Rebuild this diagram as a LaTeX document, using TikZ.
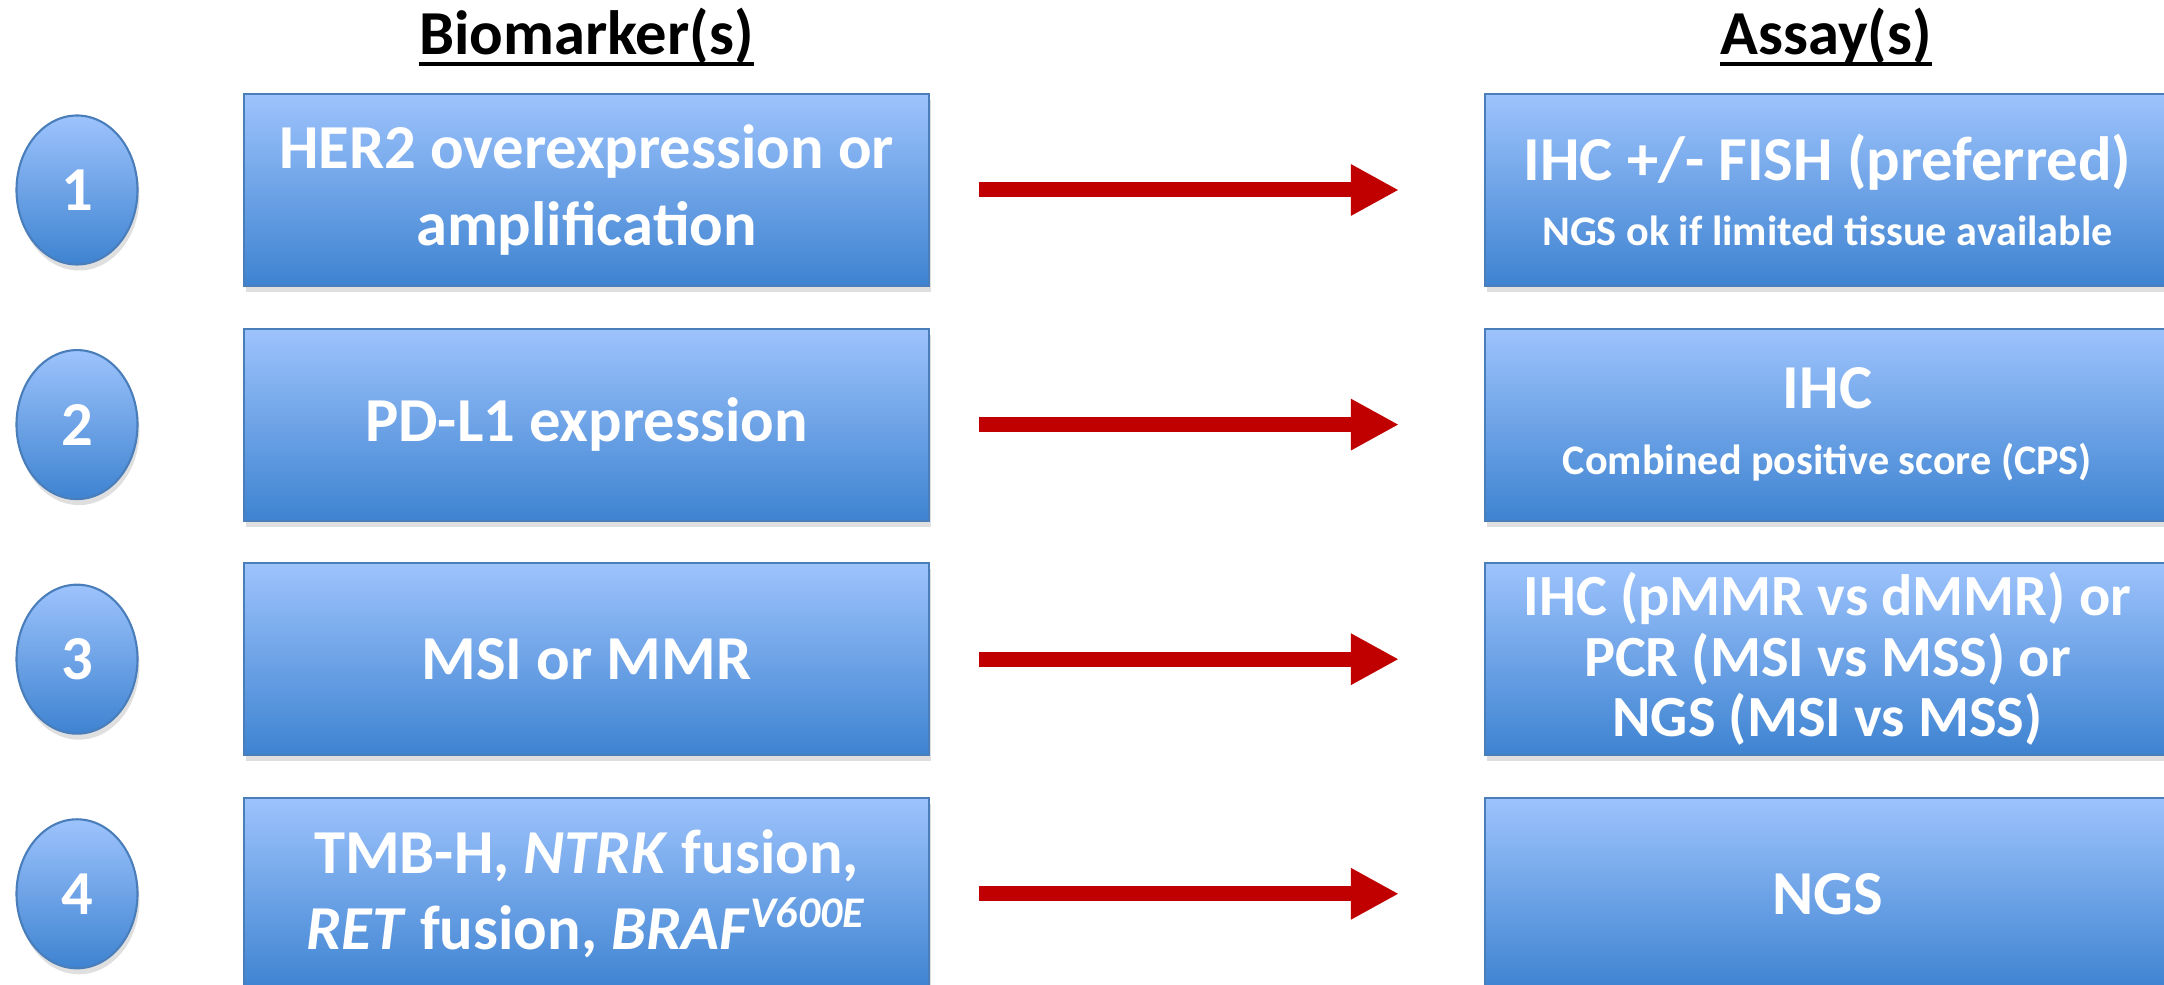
\documentclass[tikz,border=0pt]{standalone}
\usepackage{fontspec}
\setmainfont{Carlito}
\usetikzlibrary{shadows,arrows.meta,shapes.geometric}
\definecolor{boxtop}{HTML}{9DC3FC}
\definecolor{boxbot}{HTML}{3E83D1}
\definecolor{boxline}{HTML}{4A7EBB}
\definecolor{arrred}{HTML}{C00000}
\tikzset{
  big/.style={font=\fontsize{17.8}{21.7}\selectfont\bfseries},
  box/.style={rectangle, minimum width=6.85cm, minimum height=1.92cm,
    top color=boxtop, bottom color=boxbot, draw=boxline, line width=0.6pt,
    text=white, big, align=center, inner sep=2pt,
    drop shadow={opacity=0.25, shadow xshift=0.02cm, shadow yshift=-0.06cm}},
  num/.style={ellipse, minimum width=1.21cm, minimum height=1.49cm, inner sep=0pt,
    top color=boxtop, bottom color=boxbot, draw=boxline, line width=0.6pt,
    text=white, big,
    drop shadow={opacity=0.25, shadow xshift=0.02cm, shadow yshift=-0.06cm}},
  title/.style={big, text=black, inner sep=0pt, anchor=base},
  arr/.style={draw=arrred, line width=0.15cm, -{Triangle[length=0.48cm, width=0.48cm]},
    shorten <=0.49cm, shorten >=0.85cm},
}
\newcommand{\subfont}{\fontsize{12}{14.5}\selectfont\bfseries}
\begin{document}
\begin{tikzpicture}
\useasboundingbox (0,0) rectangle (21.64,-9.85);
\clip (0,0) rectangle (21.64,-9.85);
% titles
\node[title] (t1) at (5.865,-0.55) {Biomarker(s)};
\node[title] (t2) at (18.26,-0.55) {Assay(s)};
\draw[line width=1.1pt] ([yshift=-2.6pt]t1.base west) -- ([yshift=-2.6pt]t1.base east);
\draw[line width=1.1pt] ([yshift=-2.6pt]t2.base west) -- ([yshift=-2.6pt]t2.base east);
% row 1
\node[num] (n1) at (0.77,-1.90) {1};
\node[box] (b1) at (5.865,-1.90) {HER2 overexpression or\\amplification};
\node[box] (a1) at (18.275,-1.90) {IHC +/- FISH (preferred)\\[-3pt]{\subfont NGS ok if limited tissue available}};
\draw[arr] (b1) -- (a1);
% row 2
\node[num] (n2) at (0.77,-4.246) {2};
\node[box] (b2) at (5.865,-4.246) {PD-L1 expression};
\node[box] (a2) at (18.275,-4.246) {IHC\\[-3pt]{\subfont Combined positive score (CPS)}};
\draw[arr] (b2) -- (a2);
% row 3
\node[num] (n3) at (0.77,-6.592) {3};
\node[box] (b3) at (5.865,-6.592) {MSI or MMR};
\node[box, font=\fontsize{16.6}{17.2}\selectfont\bfseries] (a3) at (18.275,-6.592) {IHC (pMMR vs dMMR) or\\PCR (MSI vs MSS) or\\NGS (MSI vs MSS)};
\draw[arr] (b3) -- (a3);
% row 4
\node[num] (n4) at (0.77,-8.938) {4};
\node[box] (b4) at (5.865,-8.938) {TMB-H, \textit{NTRK} fusion,\\\textit{RET} fusion, \textit{BRAF}\textsuperscript{\textit{V600E}}};
\node[box] (a4) at (18.275,-8.938) {NGS};
\draw[arr] (b4) -- (a4);
\end{tikzpicture}
\end{document}
